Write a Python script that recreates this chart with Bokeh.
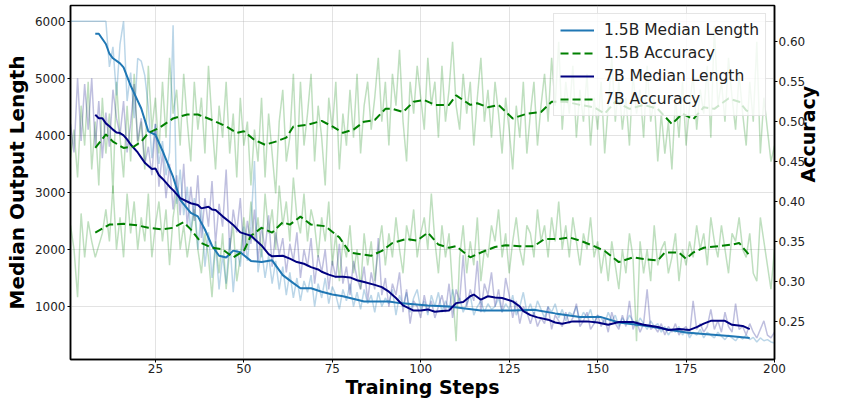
import math
from bokeh.plotting import figure
from bokeh.models import (ColumnDataSource, Range1d, LinearAxis, FixedTicker,
                          PrintfTickFormatter, Legend, LegendItem)
from bokeh.embed import file_html
from bokeh.resources import INLINE

# ---------------- data ----------------
steps = list(range(1, 201))

len15_raw = [
    6000, 6000, 6000, 6000, 6000, 6000, 6000, 6000, 6000, 6000,
    6000, 5200, 5550, 4700, 5600, 6000, 4600, 5100, 4300, 5350,
    5300, 5050, 4500, 3600, 4200, 3500, 3900, 3300, 3700, 5930,
    2800, 3400, 2600, 3100, 2300, 2900, 2000, 2700, 1700, 2300,
    1500, 2100, 1300, 1900, 1400, 2200, 1250, 2000, 1700, 2400,
    1800, 2400, 3550, 1600, 2000, 1500, 1900, 1400, 1800, 1300,
    1700, 1200, 1600, 1150, 1500, 1100, 1450, 1250, 1550, 1000,
    1400, 1150, 1500, 1050, 1350, 1200, 950, 1300, 1100, 1400,
    1000, 1250, 950, 1300, 1050, 1200, 900, 1250, 1000, 1150,
    1050, 1300, 850, 1200, 1000, 1250, 900, 1150, 1300, 950,
    1100, 850, 1200, 1000, 1250, 900, 1100, 950, 1300, 1000,
    1150, 900, 1050, 1200, 850, 1000, 1100, 900, 1050, 950,
    1000, 1150, 900, 1050, 950, 1200, 850, 1000, 1250, 900,
    1050, 850, 1100, 950, 800, 1000, 900, 1050, 800, 950,
    750, 900, 850, 1000, 750, 900, 800, 950, 700, 850,
    800, 700, 900, 750, 850, 650, 800, 700, 850, 750,
    650, 800, 700, 600, 750, 650, 700, 550, 650, 500,
    600, 550, 650, 500, 600, 450, 550, 500, 600, 450,
    550, 500, 450, 550, 480, 420, 500, 450, 400, 480,
    430, 500, 420, 460, 380, 450, 400, 420, 380, 360,
]

len7_raw = [
    4200, 3700, 5000, 3900, 4900, 4100, 5000, 3800, 4600, 3600,
    4400, 3800, 4800, 4300, 4000, 4600, 3700, 4200, 4900, 3900,
    4300, 3500, 3800, 3300, 4200, 3100, 3700, 2900, 3500, 2700,
    3300, 2600, 3500, 2400, 3100, 2500, 3300, 2200, 2900, 2400,
    3200, 2100, 2800, 2400, 3400, 2000, 2700, 2300, 2900, 1900,
    2500, 2100, 2700, 1800, 2400, 2000, 2600, 1700, 2300, 1900,
    2200, 1600, 2100, 1800, 2300, 1500, 2000, 1700, 2200, 1400,
    1900, 1600, 2000, 1300, 1800, 1500, 2100, 1400, 1700, 1200,
    1800, 1500, 1300, 1700, 1100, 1600, 1300, 2200, 1200, 1500,
    1000, 1400, 1200, 1600, 900, 1300, 700, 1100, 1000, 800,
    1200, 900, 1100, 800, 1000, 1200, 900, 1400, 800, 1300,
    1100, 1900, 1000, 1300, 1100, 1800, 900, 1400, 1200, 1600,
    1000, 1300, 900, 1500, 1200, 800, 1100, 700, 1000, 900,
    700, 900, 650, 800, 700, 1000, 600, 850, 750, 650,
    900, 700, 800, 1050, 650, 750, 900, 600, 700, 850,
    650, 800, 550, 900, 700, 600, 850, 650, 1100, 600,
    750, 550, 700, 1300, 600, 650, 550, 700, 500, 650,
    550, 700, 500, 600, 650, 500, 1100, 600, 700, 550,
    650, 950, 600, 750, 550, 900, 650, 550, 1050, 600,
    650, 500, 700, 550, 450, 600, 750, 500, 450, 550,
]

acc15_raw = [
    0.37, 0.34, 0.28, 0.385, 0.33, 0.375, 0.35, 0.33, 0.345, 0.36,
    0.39, 0.35, 0.42, 0.34, 0.38, 0.33, 0.41, 0.36, 0.40, 0.34,
    0.38, 0.35, 0.41, 0.33, 0.37, 0.40, 0.35, 0.39, 0.32, 0.38,
    0.41, 0.34, 0.37, 0.33, 0.36, 0.39, 0.34, 0.31, 0.36, 0.33,
    0.28, 0.35, 0.31, 0.36, 0.29, 0.34, 0.37, 0.30, 0.33, 0.38,
    0.34, 0.40, 0.35, 0.38, 0.33, 0.41, 0.36, 0.39, 0.34, 0.42,
    0.37, 0.40, 0.35, 0.43, 0.38, 0.36, 0.41, 0.35, 0.39, 0.37,
    0.33, 0.38, 0.35, 0.40, 0.32, 0.36, 0.30, 0.35, 0.33, 0.37,
    0.31, 0.34, 0.29, 0.36, 0.32, 0.35, 0.30, 0.34, 0.37, 0.32,
    0.36, 0.33, 0.38, 0.34, 0.31, 0.37, 0.35, 0.39, 0.33, 0.36,
    0.38, 0.34, 0.41, 0.35, 0.31, 0.37, 0.33, 0.36, 0.29, 0.225,
    0.33, 0.37, 0.31, 0.35, 0.32, 0.38, 0.30, 0.34, 0.33, 0.37,
    0.35, 0.39, 0.33, 0.36, 0.31, 0.35, 0.38, 0.34, 0.32, 0.37,
    0.36, 0.33, 0.39, 0.35, 0.37, 0.33, 0.38, 0.35, 0.40, 0.34,
    0.37, 0.33, 0.38, 0.35, 0.32, 0.36, 0.34, 0.38, 0.33, 0.35,
    0.31, 0.34, 0.30, 0.35, 0.32, 0.29, 0.34, 0.31, 0.36, 0.33,
    0.225, 0.35, 0.31, 0.34, 0.30, 0.37, 0.32, 0.34, 0.35, 0.31,
    0.33, 0.36, 0.30, 0.34, 0.32, 0.35, 0.33, 0.37, 0.34, 0.36,
    0.32, 0.38, 0.35, 0.33, 0.37, 0.34, 0.31, 0.36, 0.35, 0.38,
    0.34, 0.33, 0.36, 0.31, 0.30, 0.38, 0.35, 0.32, 0.29, 0.34,
]

acc7_raw = [
    0.455, 0.49, 0.43, 0.52, 0.47, 0.55, 0.44, 0.50, 0.42, 0.53,
    0.46, 0.51, 0.41, 0.55, 0.48, 0.43, 0.52, 0.45, 0.56, 0.47,
    0.50, 0.44, 0.57, 0.49, 0.53, 0.46, 0.55, 0.48, 0.58, 0.51,
    0.54, 0.47, 0.56, 0.50, 0.45, 0.55, 0.49, 0.53, 0.46, 0.57,
    0.50, 0.44, 0.52, 0.48, 0.55, 0.46, 0.51, 0.43, 0.53, 0.47,
    0.50, 0.42, 0.49, 0.45, 0.53, 0.43, 0.51, 0.46, 0.41, 0.50,
    0.54, 0.45, 0.48, 0.56, 0.44, 0.55, 0.47, 0.51, 0.56, 0.45,
    0.52, 0.48, 0.42, 0.53, 0.49, 0.55, 0.44, 0.51, 0.47, 0.54,
    0.48, 0.56, 0.46, 0.52, 0.55, 0.49, 0.53, 0.58, 0.50, 0.55,
    0.47, 0.56, 0.52, 0.59, 0.50, 0.45, 0.55, 0.51, 0.57, 0.53,
    0.49, 0.58, 0.52, 0.55, 0.48, 0.57, 0.50, 0.54, 0.60, 0.52,
    0.49, 0.56, 0.51, 0.55, 0.47, 0.53, 0.58, 0.50, 0.54, 0.48,
    0.55, 0.51, 0.46, 0.53, 0.49, 0.44, 0.52, 0.48, 0.55, 0.46,
    0.51, 0.55, 0.47, 0.52, 0.56, 0.50, 0.58, 0.52, 0.60, 0.49,
    0.55, 0.51, 0.57, 0.48, 0.54, 0.50, 0.56, 0.47, 0.53, 0.49,
    0.55, 0.46, 0.52, 0.58, 0.50, 0.55, 0.49, 0.53, 0.47, 0.56,
    0.51, 0.54, 0.48, 0.57, 0.50, 0.53, 0.45, 0.51, 0.46, 0.50,
    0.44, 0.53, 0.48, 0.55, 0.47, 0.52, 0.56, 0.49, 0.54, 0.51,
    0.57, 0.48, 0.62, 0.52, 0.55, 0.50, 0.58, 0.53, 0.49, 0.56,
    0.51, 0.47, 0.55, 0.50, 0.60, 0.46, 0.53, 0.49, 0.45, 0.47,
]

len15_sm_steps = [8, 9, 11, 12, 13, 15, 16, 18, 21, 23, 25, 27, 30, 32, 35, 37, 39, 41, 43, 45,
                  47, 49, 52, 55, 58, 61, 64, 66, 69, 72, 75, 78, 80, 84, 87, 91, 94, 98, 102, 108,
                  117, 126, 132, 138, 145, 151, 156, 164, 169, 175, 180, 188, 193]
len15_sm_vals = [5780, 5780, 5600, 5430, 5350, 5260, 5190, 4870, 4470, 4070, 4010, 3730, 3270, 2870, 2640, 2580, 2350, 2065, 1890, 1860,
                 1980, 1950, 1800, 1780, 1810, 1550, 1410, 1320, 1320, 1260, 1210, 1180, 1150, 1090, 1090, 1090, 1060, 1040, 1020, 1000,
                 930, 930, 945, 880, 815, 815, 720, 660, 605, 545, 520, 480, 450]

len7_sm_steps = [8, 9, 10, 11, 12, 13, 14, 15, 16, 17, 18, 20, 21, 22, 24, 25, 26, 27, 29, 30,
                 32, 35, 37, 38, 40, 41, 42, 44, 46, 47, 49, 51, 52, 55, 57, 58, 61, 63, 65, 67,
                 69, 71, 72, 74, 76, 78, 80, 82, 84, 87, 89, 91, 93, 95, 97, 98, 100, 102, 104, 106,
                 108, 110, 112, 114, 115, 117, 119, 121, 123, 126, 128, 129, 131, 133, 136, 138, 140, 143, 147, 150,
                 153, 156, 160, 163, 167, 170, 173, 176, 178, 180, 182, 186, 188, 191, 193]
len7_sm_vals = [4360, 4300, 4300, 4210, 4160, 4100, 4050, 4040, 4000, 3930, 3840, 3700, 3610, 3520, 3410, 3420, 3300, 3240, 3100, 3040,
                2900, 2810, 2780, 2720, 2750, 2700, 2690, 2580, 2480, 2430, 2300, 2260, 2240, 2070, 1920, 1880, 1890, 1840, 1780, 1750,
                1690, 1650, 1610, 1560, 1520, 1520, 1510, 1460, 1430, 1380, 1340, 1260, 1150, 1020, 960, 930, 930, 950, 910, 920,
                930, 1060, 1080, 1180, 1210, 1120, 1180, 1160, 1150, 1090, 1000, 920, 850, 810, 770, 720, 700, 740, 740, 720,
                680, 730, 730, 680, 640, 590, 605, 590, 640, 700, 750, 750, 680, 660, 605]

acc7_sm_steps = [8, 11, 13, 16, 19, 21, 23, 26, 30, 34, 37, 41, 45, 48, 50, 53, 56, 59, 62, 64,
                 68, 72, 75, 78, 81, 84, 87, 90, 92, 95, 98, 101, 104, 108, 110, 114, 116, 119, 122, 126,
                 130, 134, 137, 141, 145, 149, 152, 155, 159, 163, 167, 171, 174, 177, 180, 183, 187, 190, 192, 193]
acc7_sm_vals = [0.467, 0.484, 0.475, 0.467, 0.469, 0.475, 0.486, 0.492, 0.504, 0.509, 0.509, 0.502, 0.494, 0.486, 0.488, 0.477, 0.471, 0.475, 0.480, 0.494,
                0.496, 0.501, 0.494, 0.486, 0.490, 0.500, 0.502, 0.516, 0.516, 0.512, 0.525, 0.527, 0.521, 0.521, 0.533, 0.521, 0.523, 0.518, 0.521, 0.504,
                0.510, 0.512, 0.525, 0.525, 0.521, 0.518, 0.510, 0.525, 0.516, 0.521, 0.516, 0.497, 0.510, 0.503, 0.518, 0.516, 0.529, 0.525, 0.514, 0.512]

acc15_sm_steps = [8, 12, 16, 20, 23, 27, 30, 33, 35, 38, 41, 44, 47, 50, 52, 55, 58, 61, 63, 66,
                  69, 73, 77, 80, 83, 86, 89, 92, 96, 99, 102, 105, 108, 110, 114, 117, 121, 124, 128, 132,
                  135, 139, 142, 145, 149, 152, 156, 160, 163, 167, 169, 173, 175, 177, 180, 184, 188, 190, 193]
acc15_sm_vals = [0.361, 0.371, 0.372, 0.370, 0.367, 0.365, 0.367, 0.374, 0.365, 0.348, 0.342, 0.340, 0.330, 0.338, 0.357, 0.367, 0.361, 0.374, 0.371, 0.381,
                 0.371, 0.369, 0.355, 0.336, 0.334, 0.332, 0.338, 0.348, 0.353, 0.351, 0.361, 0.346, 0.342, 0.344, 0.330, 0.336, 0.343, 0.345, 0.344, 0.344,
                 0.353, 0.353, 0.355, 0.351, 0.344, 0.338, 0.324, 0.330, 0.328, 0.326, 0.336, 0.336, 0.328, 0.336, 0.342, 0.344, 0.346, 0.348, 0.332]

left_ticks = [1000, 2000, 3000, 4000, 5000, 6000]
right_ticks = [0.25, 0.30, 0.35, 0.40, 0.45, 0.50, 0.55, 0.60]
x_ticks = [25, 50, 75, 100, 125, 150, 175, 200]

# ---------------- figure ----------------
FONT = "DejaVu Sans"
p = figure(width=833, height=400, output_backend="svg", toolbar_location=None,
           x_range=Range1d(1, 200), y_range=Range1d(72, 6275),
           min_border_left=70, min_border_right=50, min_border_top=5, min_border_bottom=38)
p.extra_y_ranges = {"acc": Range1d(0.202, 0.6455)}

p.outline_line_color = "black"
p.outline_line_width = 1.5
p.background_fill_color = "white"
p.border_fill_color = "white"

p.xgrid.ticker = FixedTicker(ticks=x_ticks)
p.ygrid.ticker = FixedTicker(ticks=left_ticks)
for g in (p.xgrid, p.ygrid):
    g.grid_line_color = "#b0b0b0"
    g.grid_line_alpha = 0.35
    g.grid_line_width = 1

# raw series
raw_src = ColumnDataSource(dict(step=steps, l15=len15_raw, l7=len7_raw, a15=acc15_raw, a7=acc7_raw))
p.line("step", "a7", source=raw_src, color="green", alpha=0.25, line_width=1.5, y_range_name="acc")
p.line("step", "a15", source=raw_src, color="green", alpha=0.25, line_width=1.5, y_range_name="acc")
p.line("step", "l15", source=raw_src, color="#1f77b4", alpha=0.3, line_width=1.5)
p.line("step", "l7", source=raw_src, color="navy", alpha=0.25, line_width=1.5)

# smoothed series
r_l15 = p.line(len15_sm_steps, len15_sm_vals, color="#1f77b4", line_width=2)
r_a15 = p.line(acc15_sm_steps, acc15_sm_vals, color="green", line_width=2, line_dash="8 4", y_range_name="acc")
r_l7 = p.line(len7_sm_steps, len7_sm_vals, color="navy", line_width=2)
r_a7 = p.line(acc7_sm_steps, acc7_sm_vals, color="green", line_width=2, line_dash="8 4", y_range_name="acc")

# axes
def style_axis(ax):
    ax.axis_line_color = "black"
    ax.axis_line_width = 1.5
    ax.major_tick_line_color = "black"
    ax.major_tick_out = 3
    ax.major_tick_in = 0
    ax.minor_tick_line_color = None
    ax.major_label_text_font = FONT
    ax.major_label_text_font_size = "12px"
    ax.major_label_text_color = "#222222"
    ax.major_label_standoff = 2
    ax.axis_label_text_font = FONT
    ax.axis_label_text_font_style = "bold"
    ax.axis_label_text_color = "black"

xa = p.xaxis[0]
xa.ticker = FixedTicker(ticks=x_ticks)
xa.axis_label = "Training Steps"
xa.axis_label_text_font_size = "19px"
style_axis(xa)
xa.major_label_standoff = 1
xa.axis_label_standoff = 0

ya = p.yaxis[0]
ya.ticker = FixedTicker(ticks=left_ticks)
ya.axis_label = "Median Output Length"
ya.axis_label_text_font_size = "20px"
style_axis(ya)
ya.axis_label_standoff = 3

ra = LinearAxis(y_range_name="acc", ticker=FixedTicker(ticks=right_ticks),
                formatter=PrintfTickFormatter(format="%.2f"))
style_axis(ra)
ra.major_label_standoff = 1
ra.axis_label = "Accuracy"
ra.axis_label_text_font_size = "19px"
ra.axis_label_standoff = 0
try:
    ra.axis_label_orientation = math.pi / 2
except Exception:
    pass
p.add_layout(ra, "right")

legend = Legend(items=[
    LegendItem(label="1.5B Median Length", renderers=[r_l15]),
    LegendItem(label="1.5B Accuracy", renderers=[r_a15]),
    LegendItem(label="7B Median Length", renderers=[r_l7]),
    LegendItem(label="7B Accuracy", renderers=[r_a7]),
], location="top_right")
legend.label_text_font = FONT
legend.label_text_font_size = "15.5px"
legend.label_text_color = "#222222"
legend.glyph_width = 34
legend.glyph_height = 20
legend.label_height = 20
legend.spacing = 3
legend.padding = 6
legend.margin = 8
legend.label_standoff = 10
legend.border_line_color = "#cccccc"
legend.border_line_width = 1
legend.background_fill_color = "white"
legend.background_fill_alpha = 0.8
p.add_layout(legend)

open("out.html", "w").write(file_html(p, INLINE))
